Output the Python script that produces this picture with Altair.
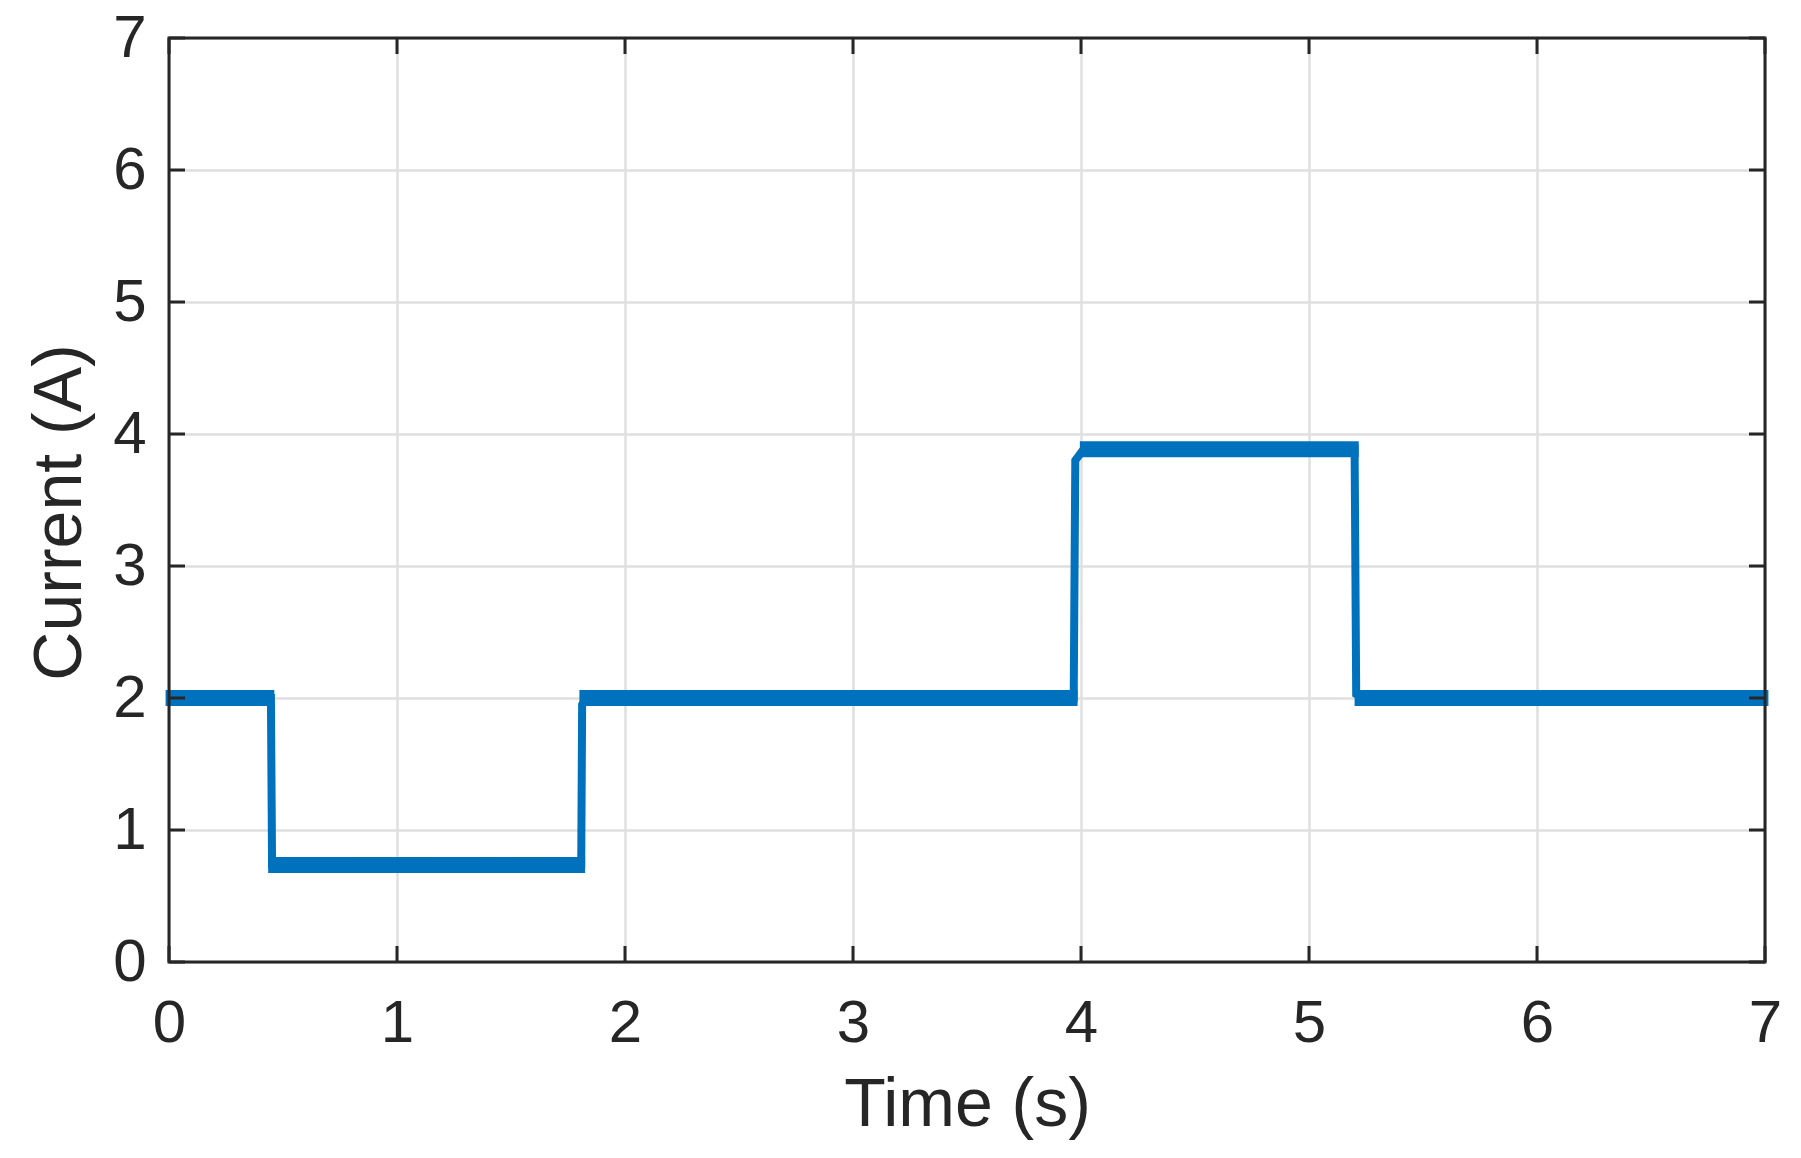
import altair as alt
import pandas as pd

# Measured current trace (time in s, current in A)
t_vals = [0.0, 0.15, 0.30, 0.447, 0.452, 0.60, 0.80, 1.00, 1.20, 1.40, 1.60, 1.808,
          1.812, 1.83, 2.20, 2.60, 3.00, 3.40, 3.80, 3.968,
          3.975, 4.01, 4.30, 4.60, 4.90, 5.200,
          5.207, 5.24, 5.60, 6.00, 6.40, 6.80, 7.0]
i_vals = [2.00, 2.01, 2.00, 2.00, 0.74, 0.74, 0.73, 0.735, 0.73, 0.735, 0.73, 0.74,
          1.95, 2.00, 2.00, 2.00, 2.01, 2.00, 2.00, 2.00,
          3.80, 3.88, 3.885, 3.89, 3.885, 3.89,
          2.03, 2.00, 2.00, 2.00, 2.00, 2.00, 2.00]

# Flat (noisy) plateaus: start, end, level
seg_start = [-0.015, 0.435, 1.800, 3.995, 5.200]
seg_end = [0.462, 1.825, 3.985, 5.218, 7.015]
seg_level = [2.00, 0.735, 2.00, 3.885, 2.00]

x_ticks = [0, 1, 2, 3, 4, 5, 6, 7]
y_ticks = [0, 1, 2, 3, 4, 5, 6, 7]

W, H = 1596, 924
BLUE = "#0072BD"
INK = "#262626"
GRID = "#dfdfdf"
FONT = "Liberation Sans"

df = pd.DataFrame({"t": t_vals, "I": i_vals})
segs = pd.DataFrame({"start": seg_start, "end": seg_end, "level": seg_level})
xt = pd.DataFrame({"v": x_ticks})
yt = pd.DataFrame({"v": y_ticks})
box = pd.DataFrame({"b": [0]})

xs = alt.Scale(domain=[0, 7], nice=False, zero=False)
ys = alt.Scale(domain=[0, 7], nice=False, zero=False)

x_axis = alt.Axis(
    values=x_ticks, format="d", title="Time (s)", grid=True, gridColor=GRID,
    gridWidth=2.5, domain=False, ticks=False, tickSize=0,
    labelFont=FONT, labelFontSize=60, labelColor=INK, labelPadding=79,
    labelBaseline="alphabetic", labelFlush=False, labelOverlap=False,
    titleFont=FONT, titleFontSize=68, titleFontWeight="normal", titleColor=INK,
    titleX=W / 2, titleY=163, titleBaseline="alphabetic", titleAlign="center",
)
y_axis = alt.Axis(
    values=y_ticks, format="d", title="Current (A)", grid=True, gridColor=GRID,
    gridWidth=2.5, domain=False, ticks=False, tickSize=0,
    labelFont=FONT, labelFontSize=60, labelColor=INK, labelPadding=23,
    labelFlush=False, labelOverlap=False,
    titleFont=FONT, titleFontSize=68, titleFontWeight="normal", titleColor=INK,
    titleX=-89, titleY=474, titleBaseline="alphabetic", titleAlign="center",
    titleAngle=270,
)

bands = alt.Chart(segs).mark_rule(color=BLUE, strokeWidth=16, clip=False).encode(
    x=alt.X("start:Q", scale=xs, axis=x_axis),
    x2="end:Q",
    y=alt.Y("level:Q", scale=ys, axis=y_axis),
)

line = alt.Chart(df).mark_line(color=BLUE, strokeWidth=8, clip=False).encode(
    x=alt.X("t:Q", scale=xs, axis=x_axis),
    y=alt.Y("I:Q", scale=ys, axis=y_axis),
)

tick_style = dict(color=INK, strokeWidth=3)
xb = alt.Chart(xt).mark_rule(**tick_style).encode(
    x=alt.X("v:Q", scale=xs, axis=x_axis), y=alt.value(H), y2=alt.value(H - 16))
xtop = alt.Chart(xt).mark_rule(**tick_style).encode(
    x=alt.X("v:Q", scale=xs, axis=x_axis), y=alt.value(0), y2=alt.value(16))
yl = alt.Chart(yt).mark_rule(**tick_style).encode(
    y=alt.Y("v:Q", scale=ys, axis=y_axis), x=alt.value(0), x2=alt.value(16))
yr = alt.Chart(yt).mark_rule(**tick_style).encode(
    y=alt.Y("v:Q", scale=ys, axis=y_axis), x=alt.value(W), x2=alt.value(W - 16))

frame = alt.Chart(box).mark_rect(filled=False, stroke=INK, strokeWidth=3).encode(
    x=alt.value(0), x2=alt.value(W), y=alt.value(0), y2=alt.value(H))

chart = alt.layer(bands, line, xb, xtop, yl, yr, frame).properties(
    width=W, height=H,
    autosize=alt.AutoSizeParams(type="none"),
    padding={"left": 161, "top": 30, "right": 24, "bottom": 185},
    background="white",
).configure_view(stroke=None)

chart.save("out.html", embed_options={"renderer": "svg", "actions": False})
